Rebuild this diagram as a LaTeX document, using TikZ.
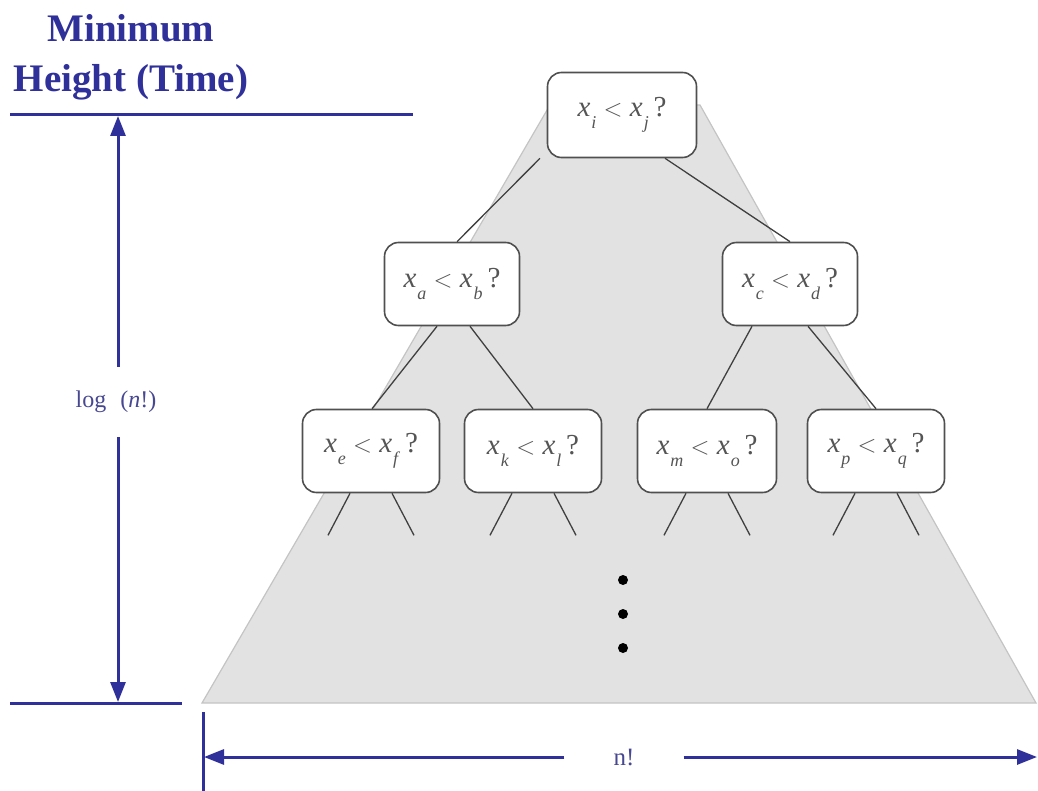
\documentclass[tikz,border=0pt]{standalone}
\usepackage{fontspec}
\setmainfont{Liberation Serif}
\usetikzlibrary{calc,arrows.meta}
\definecolor{dblue}{HTML}{30309A}
\definecolor{tri}{HTML}{E2E2E2}
\definecolor{triedge}{HTML}{C4C4C4}
\definecolor{boxedge}{HTML}{505050}
\definecolor{txt}{HTML}{555555}
\newcommand{\xv}[1]{\textit{x}\kern1pt\raisebox{-0.4em}{\fontsize{18}{18}\selectfont\textit{#1}}}
\begin{document}
\begin{tikzpicture}[x=1pt,y=-1pt,
  qbox/.style={draw=boxedge,line width=1.6pt,rounded corners=14pt,fill=white,
    minimum width=137pt,minimum height=83pt,inner sep=0pt,text=txt,
    font=\fontsize{29}{30}\selectfont},
  tedge/.style={line width=1.3pt,draw=black!75},
  bl/.style={draw=dblue,line width=3pt},
  arr/.style={bl,-{Triangle[length=20pt,width=15pt]}},
  lab/.style={text=dblue!70!gray}]
\useasboundingbox (0,0) rectangle (1038,791);
% triangle
\fill[tri,draw=triedge,line width=1.2pt] (202,703) -- (1036,703) -- (700,105) -- (550,105) -- cycle;
% nodes
\node[qbox,minimum width=149pt,minimum height=85pt] (t) at (622,115) {\xv{i} $<$ \xv{j}\,?};
\node[qbox,minimum width=135pt] (a) at (452,284) {\xv{a} $<$ \xv{b}\,?};
\node[qbox,minimum width=135pt] (c) at (790,284) {\xv{c} $<$ \xv{d}\,?};
\node[qbox] (e) at (371,451) {\xv{e} $<$ \xv{f}\,?};
\node[qbox] (k) at (533,451) {\xv{k} $<$ \xv{l}\,?};
\node[qbox,minimum width=139pt] (m) at (707,451) {\xv{m} $<$ \xv{o}\,?};
\node[qbox] (p) at (876,451) {\xv{p} $<$ \xv{q}\,?};
% tree edges
\draw[tedge] ($(t.south)+(-82,0)$) -- ($(a.north)+(5,0)$);
\draw[tedge] ($(t.south)+(43,0)$) -- (c.north);
\draw[tedge] ($(a.south)+(-15,0)$) -- ($(e.north)+(1,0)$);
\draw[tedge] ($(a.south)+(18,0)$) -- (k.north);
\draw[tedge] ($(c.south)+(-38,0)$) -- (m.north);
\draw[tedge] ($(c.south)+(18,0)$) -- (p.north);
% leaf stubs
\foreach \n in {e,k,m,p}{
  \draw[tedge] ($(\n.south)+(-21,0)$) -- ++(-22,42);
  \draw[tedge] ($(\n.south)+(21,0)$) -- ++(22,42);
}
% dots
\foreach \yy/\nm in {580/d1,614/d2,648/d3}
  \fill (623,\yy) circle (5pt);
% left height marker
\coordinate (ht0) at (10,115); \coordinate (ht1) at (413,115);
\coordinate (hb0) at (10,703); \coordinate (hb1) at (182,703);
\draw[bl] (ht0) -- (ht1);
\draw[bl] (hb0) -- (hb1);
\node[lab,font=\fontsize{24}{26}\selectfont,inner ysep=24pt] (log) at (116,402) {log\,\, (\textit{n}!)};
\coordinate (vt) at (118,116); \coordinate (vb) at (118,702);
\draw[arr] (log.north -| vt) -- (vt);
\draw[arr] (log.south -| vb) -- (vb);
% bottom width marker
\coordinate (wv0) at (203,712); \coordinate (wv1) at (203,791);
\draw[bl] (wv0) -- (wv1);
\node[lab,font=\fontsize{25}{26}\selectfont,inner xsep=49pt] (nf) at (624,757) {n!};
\coordinate (wl) at (204,757); \coordinate (wr) at (1037,757);
\draw[arr] (nf.west) -- (wl);
\draw[arr] (nf.east) -- (wr);
% title
\node[text=dblue,font=\bfseries\fontsize{39}{50}\selectfont,align=center] (title) at (131,57) {Minimum\\Height (Time)};
\end{tikzpicture}
\end{document}
